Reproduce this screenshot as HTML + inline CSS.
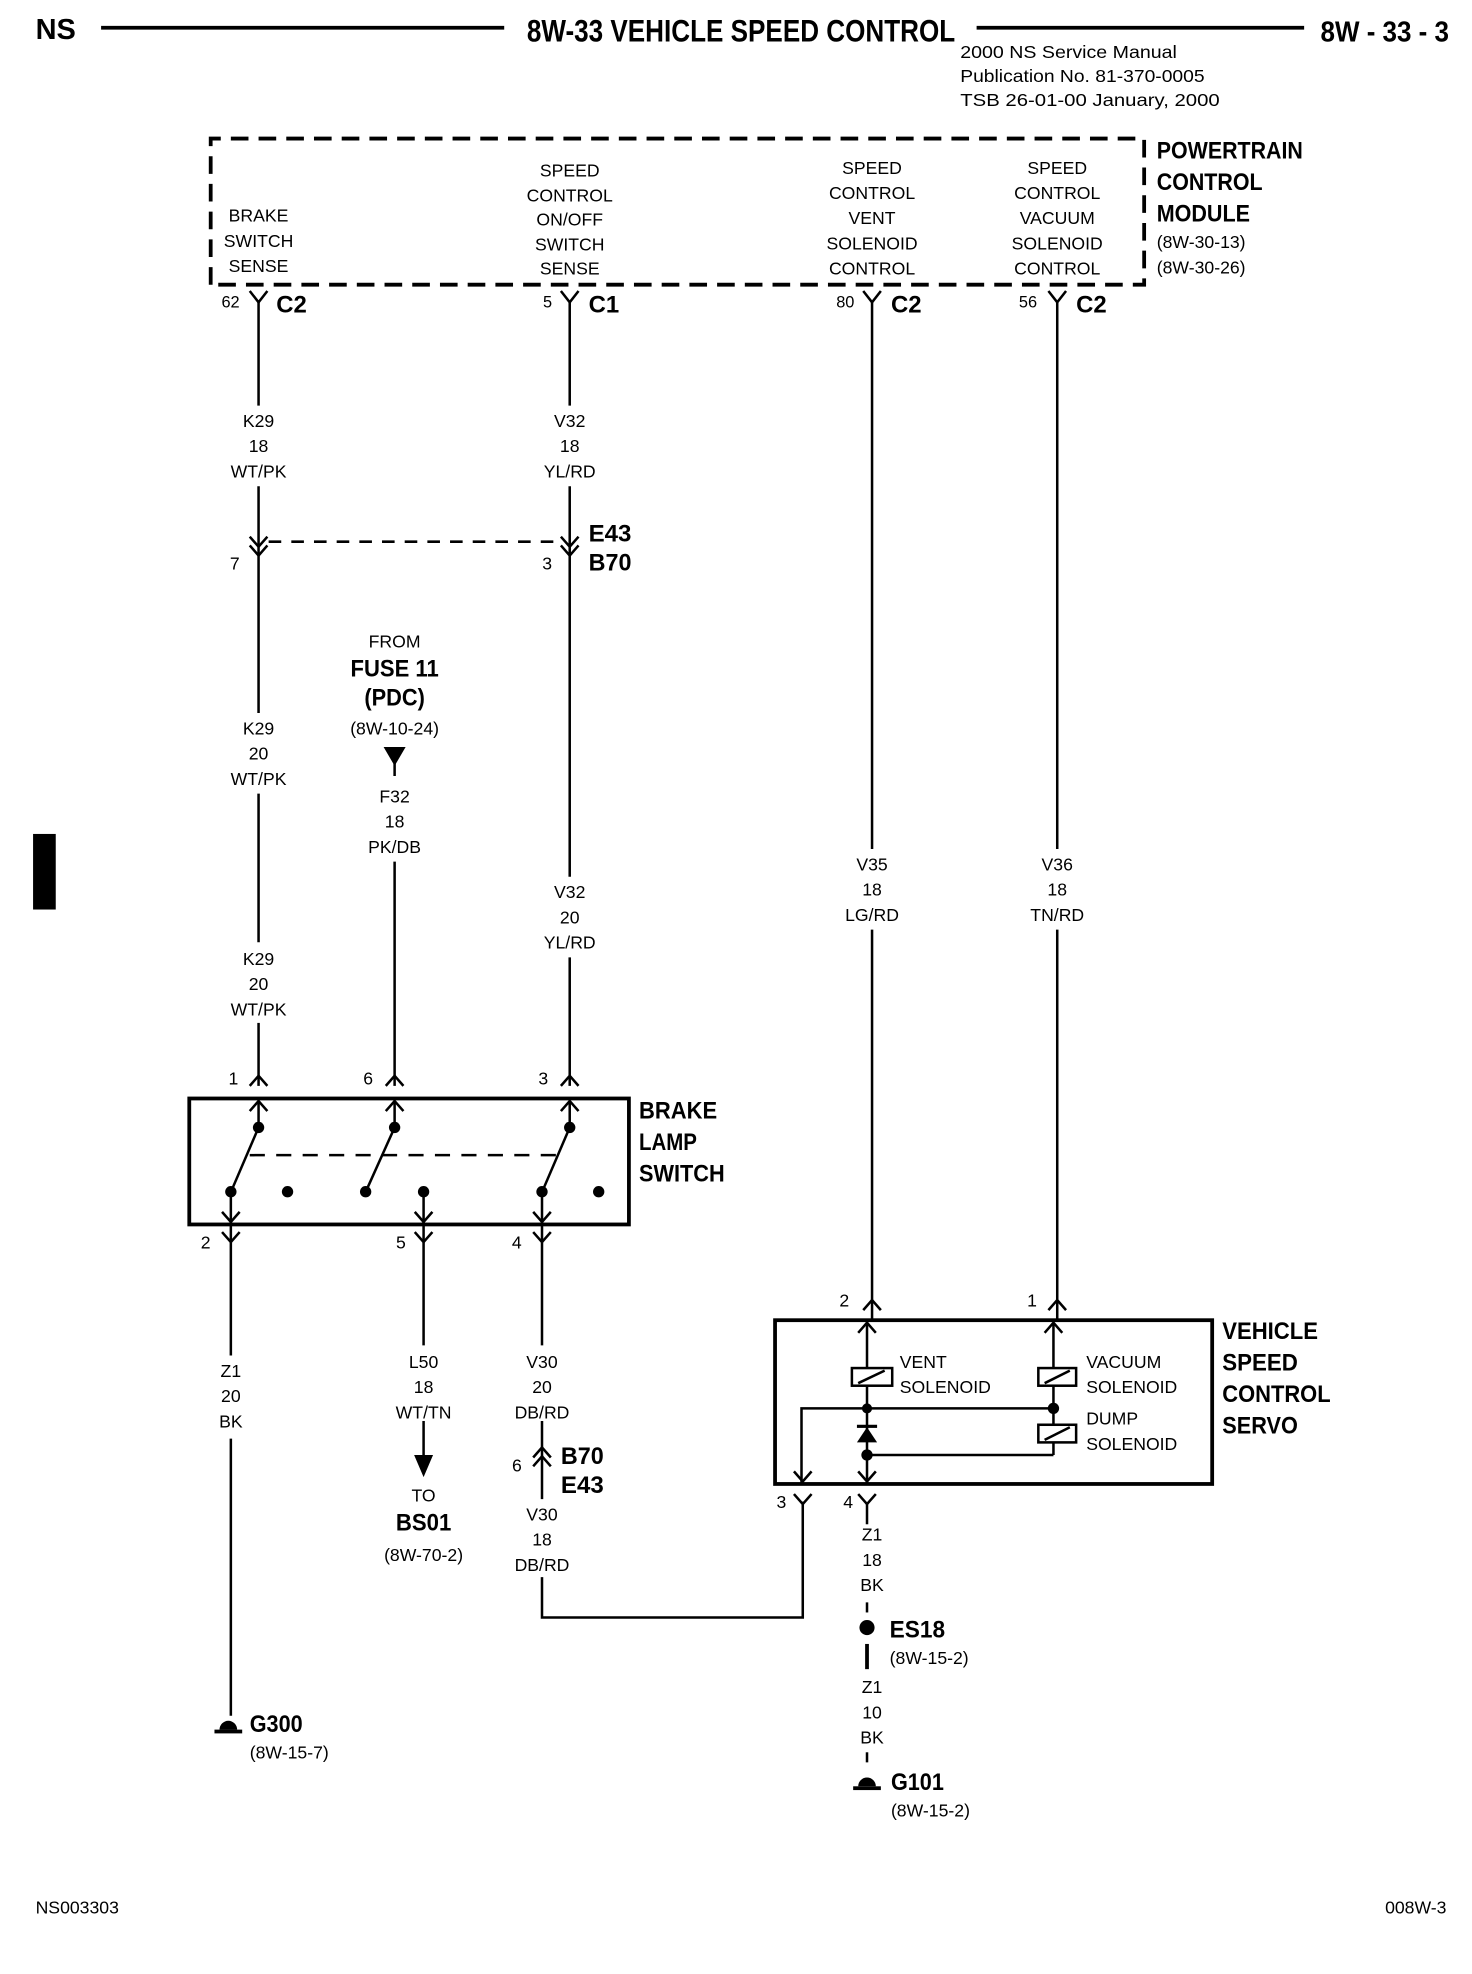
<!DOCTYPE html>
<html><head><meta charset="utf-8"><style>
html,body{margin:0;padding:0;background:#fff}
svg{display:block}
text{font-family:"Liberation Sans Narrow","Liberation Sans",sans-serif;fill:#000}
.s{font-size:14px}
.b{font-size:19px;font-weight:bold}
.m{text-anchor:middle}
</style></head><body>
<svg width="1472" height="1974" viewBox="0 0 1168 1567" xmlns="http://www.w3.org/2000/svg">
<g stroke="#000" fill="none" stroke-width="2">
<line x1="80" y1="22" x2="400" y2="22" stroke-width="3"/>
<line x1="775" y1="22" x2="1035" y2="22" stroke-width="3"/>
<path d="M167 226 V110 H908 V226 H167" stroke-width="3" stroke-dasharray="14 8"/>
<path d="M198 231 L205 240 L212 231 M445 231 L452 240 L459 231 M685 231 L692 240 L699 231 M832 231 L839 240 L846 231"/>
<line x1="205" y1="240" x2="205" y2="322"/>
<line x1="205" y1="386" x2="205" y2="566"/>
<line x1="205" y1="630" x2="205" y2="748"/>
<line x1="205" y1="812" x2="205" y2="862"/>
<path d="M198 426 L205 434 L212 426 M198 433 L205 441 L212 433"/>
<line x1="213" y1="430" x2="445" y2="430" stroke-dasharray="10 8"/>
<line x1="452" y1="240" x2="452" y2="322"/>
<line x1="452" y1="386" x2="452" y2="696"/>
<line x1="452" y1="760" x2="452" y2="862"/>
<path d="M445 426 L452 434 L459 426 M445 433 L452 441 L459 433"/>
<path d="M306 594 H320 L313 606 Z" fill="#000"/>
<line x1="313" y1="600" x2="313" y2="616"/>
<line x1="313" y1="684" x2="313" y2="862"/>
<line x1="692" y1="240" x2="692" y2="674"/>
<line x1="692" y1="738" x2="692" y2="1048"/>
<line x1="839" y1="240" x2="839" y2="674"/>
<line x1="839" y1="738" x2="839" y2="1048"/>
<rect x="150" y="872" width="349" height="100" stroke-width="3"/>
<path d="M198 862 L205 854 L212 862 M306 862 L313 854 L320 862 M445 862 L452 854 L459 862"/>
<path d="M198 882 L205 874 L212 882 M306 882 L313 874 L320 882 M445 882 L452 874 L459 882"/>
<line x1="205" y1="874" x2="205" y2="895"/><line x1="313" y1="874" x2="313" y2="895"/><line x1="452" y1="874" x2="452" y2="895"/>
<line x1="205" y1="895" x2="184" y2="944"/><line x1="313" y1="895" x2="291" y2="944"/><line x1="452" y1="895" x2="431" y2="944"/>
<line x1="198" y1="917" x2="446" y2="917" stroke-dasharray="12 9"/>
<line x1="183" y1="946" x2="183" y2="985"/><line x1="336" y1="946" x2="336" y2="985"/><line x1="430" y1="946" x2="430" y2="985"/>
<path d="M176 962 L183 970 L190 962 M329 962 L336 970 L343 962 M423 962 L430 970 L437 962"/>
<path d="M176 978 L183 986 L190 978 M329 978 L336 986 L343 978 M423 978 L430 986 L437 978"/>
<line x1="183" y1="986" x2="183" y2="1076"/>
<line x1="183" y1="1142" x2="183" y2="1362"/>
<line x1="336" y1="986" x2="336" y2="1068"/>
<line x1="336" y1="1128" x2="336" y2="1156"/>
<path d="M330 1156 H342 L336 1170 Z" fill="#000"/>
<line x1="430" y1="986" x2="430" y2="1068"/>
<line x1="430" y1="1128" x2="430" y2="1190"/>
<path d="M423 1157 L430 1149 L437 1157 M423 1164 L430 1156 L437 1164"/>
<path d="M430 1252 V1284 H637 V1192"/>
<rect x="615" y="1048" width="347" height="130" stroke-width="3"/>
<path d="M685 1040 L692 1032 L699 1040 M832 1040 L839 1032 L846 1040"/>
<path d="M681 1058 L688 1050 L695 1058 M829 1058 L836 1050 L843 1058"/>
<line x1="688" y1="1050" x2="688" y2="1178"/>
<line x1="836" y1="1050" x2="836" y2="1155"/>
<rect x="676" y="1086" width="32" height="14" fill="#fff"/>
<line x1="681" y1="1098" x2="702" y2="1088"/>
<rect x="824" y="1086" width="30" height="14" fill="#fff"/>
<line x1="829" y1="1098" x2="849" y2="1088"/>
<rect x="824" y="1131" width="30" height="14" fill="#fff"/>
<line x1="829" y1="1143" x2="849" y2="1133"/>
<path d="M636 1178 V1118 H836"/>
<line x1="688" y1="1155" x2="836" y2="1155"/>
<path d="M681 1168 L688 1176 L695 1168 M630 1168 L637 1176 L644 1168"/>
<path d="M630 1186 L637 1194 L644 1186 M681 1186 L688 1194 L695 1186"/>
<line x1="688" y1="1194" x2="688" y2="1210"/>
<line x1="688" y1="1272" x2="688" y2="1280"/>
<line x1="688" y1="1305" x2="688" y2="1325" stroke-width="3"/>
<line x1="688" y1="1391" x2="688" y2="1399"/>
</g>
<g fill="#000">
<rect x="26" y="662" width="18" height="60"/>
<circle cx="205" cy="895" r="4.5"/><circle cx="313" cy="895" r="4.5"/><circle cx="452" cy="895" r="4.5"/>
<circle cx="183" cy="946" r="4.5"/><circle cx="228" cy="946" r="4.5"/><circle cx="290" cy="946" r="4.5"/><circle cx="336" cy="946" r="4.5"/><circle cx="430" cy="946" r="4.5"/><circle cx="475" cy="946" r="4.5"/>
<circle cx="688" cy="1118" r="4"/><circle cx="836" cy="1118" r="4.5"/><circle cx="688" cy="1155" r="4.5"/>
<path d="M680 1145 H696 L688 1133 Z"/><rect x="680" y="1131" width="16" height="2.5"/>
<circle cx="688" cy="1292" r="6"/>
<path d="M174 1373 A7 7 0 0 1 188 1373 Z"/><rect x="170" y="1373" width="22" height="3"/>
<path d="M681 1418 A7 7 0 0 1 695 1418 Z"/><rect x="677" y="1418" width="22" height="3"/>
</g>
<text x="28" y="31" class="b" style="font-size:23px">NS</text>
<text x="418" y="33" class="b" style="font-size:25px" textLength="340" lengthAdjust="spacingAndGlyphs">8W-33 VEHICLE SPEED CONTROL</text>
<text x="1048" y="33" class="b" style="font-size:23px" textLength="102" lengthAdjust="spacingAndGlyphs">8W - 33 - 3</text>
<text x="762" y="46" class="s" textLength="172" lengthAdjust="spacingAndGlyphs">2000 NS Service Manual</text>
<text x="762" y="65" class="s" textLength="194" lengthAdjust="spacingAndGlyphs">Publication No. 81-370-0005</text>
<text x="762" y="84" class="s" textLength="206" lengthAdjust="spacingAndGlyphs">TSB 26-01-00   January, 2000</text>
<text x="918" y="126" class="b" textLength="116" lengthAdjust="spacingAndGlyphs">POWERTRAIN</text>
<text x="918" y="151" class="b" textLength="84" lengthAdjust="spacingAndGlyphs">CONTROL</text>
<text x="918" y="176" class="b" textLength="74" lengthAdjust="spacingAndGlyphs">MODULE</text>
<text x="918" y="197" class="s">(8W-30-13)</text>
<text x="918" y="217" class="s">(8W-30-26)</text>
<text x="205" y="176" class="s m">BRAKE</text><text x="205" y="196" class="s m">SWITCH</text><text x="205" y="216" class="s m">SENSE</text>
<text x="452" y="140" class="s m">SPEED</text><text x="452" y="160" class="s m">CONTROL</text><text x="452" y="179" class="s m">ON/OFF</text><text x="452" y="199" class="s m">SWITCH</text><text x="452" y="218" class="s m">SENSE</text>
<text x="692" y="138" class="s m">SPEED</text><text x="692" y="158" class="s m">CONTROL</text><text x="692" y="178" class="s m">VENT</text><text x="692" y="198" class="s m">SOLENOID</text><text x="692" y="218" class="s m">CONTROL</text>
<text x="839" y="138" class="s m">SPEED</text><text x="839" y="158" class="s m">CONTROL</text><text x="839" y="178" class="s m">VACUUM</text><text x="839" y="198" class="s m">SOLENOID</text><text x="839" y="218" class="s m">CONTROL</text>
<text x="190" y="244" class="s" style="text-anchor:end;font-size:13px">62</text><text x="219" y="248" class="b">C2</text>
<text x="438" y="244" class="s" style="text-anchor:end;font-size:13px">5</text><text x="467" y="248" class="b">C1</text>
<text x="678" y="244" class="s" style="text-anchor:end;font-size:13px">80</text><text x="707" y="248" class="b">C2</text>
<text x="823" y="244" class="s" style="text-anchor:end;font-size:13px">56</text><text x="854" y="248" class="b">C2</text>
<text x="205" y="339" class="s m">K29</text><text x="205" y="359" class="s m">18</text><text x="205" y="379" class="s m">WT/PK</text>
<text x="452" y="339" class="s m">V32</text><text x="452" y="359" class="s m">18</text><text x="452" y="379" class="s m">YL/RD</text>
<text x="190" y="452" class="s" style="text-anchor:end">7</text>
<text x="438" y="452" class="s" style="text-anchor:end">3</text>
<text x="467" y="430" class="b" textLength="34" lengthAdjust="spacingAndGlyphs">E43</text><text x="467" y="453" class="b" textLength="34" lengthAdjust="spacingAndGlyphs">B70</text>
<text x="313" y="514" class="s m">FROM</text>
<text x="313" y="537" class="b m" textLength="70" lengthAdjust="spacingAndGlyphs">FUSE 11</text>
<text x="313" y="560" class="b m" textLength="48" lengthAdjust="spacingAndGlyphs">(PDC)</text>
<text x="313" y="583" class="s m">(8W-10-24)</text>
<text x="313" y="637" class="s m">F32</text><text x="313" y="657" class="s m">18</text><text x="313" y="677" class="s m">PK/DB</text>
<text x="205" y="583" class="s m">K29</text><text x="205" y="603" class="s m">20</text><text x="205" y="623" class="s m">WT/PK</text>
<text x="452" y="713" class="s m">V32</text><text x="452" y="733" class="s m">20</text><text x="452" y="753" class="s m">YL/RD</text>
<text x="205" y="766" class="s m">K29</text><text x="205" y="786" class="s m">20</text><text x="205" y="806" class="s m">WT/PK</text>
<text x="692" y="691" class="s m">V35</text><text x="692" y="711" class="s m">18</text><text x="692" y="731" class="s m">LG/RD</text>
<text x="839" y="691" class="s m">V36</text><text x="839" y="711" class="s m">18</text><text x="839" y="731" class="s m">TN/RD</text>
<text x="185" y="861" class="s m">1</text><text x="292" y="861" class="s m">6</text><text x="431" y="861" class="s m">3</text>
<text x="507" y="888" class="b" textLength="62" lengthAdjust="spacingAndGlyphs">BRAKE</text><text x="507" y="913" class="b" textLength="46" lengthAdjust="spacingAndGlyphs">LAMP</text><text x="507" y="938" class="b" textLength="68" lengthAdjust="spacingAndGlyphs">SWITCH</text>
<text x="163" y="991" class="s m">2</text><text x="318" y="991" class="s m">5</text><text x="410" y="991" class="s m">4</text>
<text x="183" y="1093" class="s m">Z1</text><text x="183" y="1113" class="s m">20</text><text x="183" y="1133" class="s m">BK</text>
<text x="336" y="1086" class="s m">L50</text><text x="336" y="1106" class="s m">18</text><text x="336" y="1126" class="s m">WT/TN</text>
<text x="336" y="1192" class="s m">TO</text><text x="336" y="1215" class="b m" textLength="44" lengthAdjust="spacingAndGlyphs">BS01</text><text x="336" y="1239" class="s m">(8W-70-2)</text>
<text x="430" y="1086" class="s m">V30</text><text x="430" y="1106" class="s m">20</text><text x="430" y="1126" class="s m">DB/RD</text>
<text x="414" y="1168" class="s" style="text-anchor:end">6</text>
<text x="445" y="1162" class="b" textLength="34" lengthAdjust="spacingAndGlyphs">B70</text><text x="445" y="1185" class="b" textLength="34" lengthAdjust="spacingAndGlyphs">E43</text>
<text x="430" y="1207" class="s m">V30</text><text x="430" y="1227" class="s m">18</text><text x="430" y="1247" class="s m">DB/RD</text>
<text x="198" y="1375" class="b" textLength="42" lengthAdjust="spacingAndGlyphs">G300</text><text x="198" y="1396" class="s">(8W-15-7)</text>
<text x="670" y="1037" class="s m">2</text><text x="819" y="1037" class="s m">1</text>
<text x="970" y="1063" class="b" textLength="76" lengthAdjust="spacingAndGlyphs">VEHICLE</text><text x="970" y="1088" class="b" textLength="60" lengthAdjust="spacingAndGlyphs">SPEED</text><text x="970" y="1113" class="b" textLength="86" lengthAdjust="spacingAndGlyphs">CONTROL</text><text x="970" y="1138" class="b" textLength="60" lengthAdjust="spacingAndGlyphs">SERVO</text>
<text x="714" y="1086" class="s">VENT</text><text x="714" y="1106" class="s">SOLENOID</text>
<text x="862" y="1086" class="s">VACUUM</text><text x="862" y="1106" class="s">SOLENOID</text>
<text x="862" y="1131" class="s">DUMP</text><text x="862" y="1151" class="s">SOLENOID</text>
<text x="620" y="1197" class="s m">3</text><text x="673" y="1197" class="s m">4</text>
<text x="692" y="1223" class="s m">Z1</text><text x="692" y="1243" class="s m">18</text><text x="692" y="1263" class="s m">BK</text>
<text x="706" y="1300" class="b" textLength="44" lengthAdjust="spacingAndGlyphs">ES18</text><text x="706" y="1321" class="s">(8W-15-2)</text>
<text x="692" y="1344" class="s m">Z1</text><text x="692" y="1364" class="s m">10</text><text x="692" y="1384" class="s m">BK</text>
<text x="707" y="1421" class="b" textLength="42" lengthAdjust="spacingAndGlyphs">G101</text><text x="707" y="1442" class="s">(8W-15-2)</text>
<text x="28" y="1519" class="s">NS003303</text>
<text x="1148" y="1519" class="s" style="text-anchor:end">008W-3</text>
</svg>
</body></html>
